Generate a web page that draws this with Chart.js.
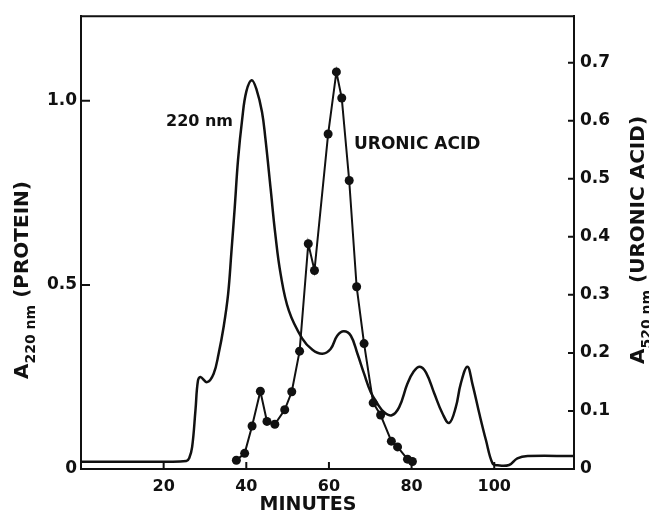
<!DOCTYPE html>
<html lang="en">
<head>
  <meta charset="UTF-8" />
  <title>Elution profile - protein and uronic acid</title>
  <script src="https://cdn.jsdelivr.net/npm/chart.js"></script>
  <style>
    html, body {
      margin: 0;
      padding: 0;
      background: #fff;
    }
    #wrap {
      width: 649px;
      height: 518px;
      position: relative;
    }
  </style>
</head>
<body>
  <div id="wrap"><canvas id="elution"></canvas></div>

  <script>
    // 220 nm trace (left axis)
    const proteinMinutes = [0, 20, 25.5, 26.2, 26.9, 27.7, 28.3, 28.9, 30.5, 32.1, 33.3, 34.5, 35.6, 36.4, 37.2, 38.0, 39.0, 40.0, 41.3, 42.5, 43.8, 44.6, 45.9, 47.0, 48.3, 50.3, 53.5, 56, 58.4, 60.4, 62, 63.6, 65.3, 66.9, 68.5, 70.1, 71.7, 73.3, 75.2, 77, 79, 80.5, 82, 83.5, 85.5, 87.5, 89.1, 90.7, 91.9, 93.5, 94.7, 96.4, 98, 99.6, 100.8, 103.6, 105.6, 108.1, 119.3];
    const proteinA220 = [0.02, 0.02, 0.022, 0.03, 0.06, 0.16, 0.24, 0.25, 0.236, 0.259, 0.313, 0.385, 0.475, 0.59, 0.71, 0.84, 0.95, 1.025, 1.056, 1.03, 0.97, 0.9, 0.76, 0.64, 0.53, 0.43, 0.355, 0.324, 0.313, 0.326, 0.362, 0.374, 0.362, 0.313, 0.259, 0.209, 0.178, 0.155, 0.146, 0.168, 0.232, 0.265, 0.278, 0.262, 0.205, 0.15, 0.125, 0.168, 0.232, 0.278, 0.232, 0.15, 0.078, 0.015, 0.01, 0.011, 0.029, 0.035, 0.035];

    // uronic acid fractions (right axis)
    const uronicMinutes = [37.6, 39.6, 41.4, 43.4, 45.0, 46.9, 49.3, 51.0, 52.9, 55.0, 56.5, 59.8, 61.8, 63.1, 64.9, 66.7, 68.5, 70.7, 72.5, 75.1, 76.6, 79.0, 80.2];
    const uronicA520 = [0.015, 0.027, 0.074, 0.134, 0.082, 0.077, 0.102, 0.133, 0.203, 0.388, 0.342, 0.577, 0.684, 0.639, 0.497, 0.314, 0.216, 0.114, 0.093, 0.048, 0.038, 0.017, 0.013];

    const xTicks = [20, 40, 60, 80, 100];
    const leftTicks = [0, 0.5, 1.0];
    const rightTicks = [0, 0.1, 0.2, 0.3, 0.4, 0.5, 0.6, 0.7];

    const FONT = "'DejaVu Sans', sans-serif";
    const INK = '#111';

    function toPoints(xs, ys) {
      return xs.map((x, i) => ({ x: x, y: ys[i] }));
    }

    function tickLabel(v) {
      return v === 0 ? '0' : v.toFixed(1);
    }

    // rotated axis title with a subscript part
    function verticalTitle(ctx, x, yCenter, main, sub, rest) {
      const big = 'bold 20px ' + FONT;
      const small = 'bold 14px ' + FONT;
      ctx.save();
      ctx.translate(x, yCenter);
      ctx.rotate(-Math.PI / 2);
      ctx.textAlign = 'left';
      ctx.textBaseline = 'alphabetic';
      ctx.font = big;
      const wMain = ctx.measureText(main).width;
      const wRest = ctx.measureText(rest).width;
      ctx.font = small;
      const wSub = ctx.measureText(sub).width;
      let cur = -(wMain + wSub + wRest) / 2;
      ctx.font = big;
      ctx.fillText(main, cur, 0);
      cur += wMain;
      ctx.font = small;
      ctx.fillText(sub, cur, 7);
      cur += wSub;
      ctx.font = big;
      ctx.fillText(rest, cur, 0);
      ctx.restore();
    }

    // inward tick marks, top frame line and the free-standing texts
    const decorations = {
      id: 'decorations',
      afterDraw(chart) {
        const { ctx, chartArea: a, scales } = chart;
        ctx.save();
        ctx.strokeStyle = INK;
        ctx.lineWidth = 2;
        ctx.beginPath();
        ctx.moveTo(a.left - 1, a.top);
        ctx.lineTo(a.right + 1, a.top);
        xTicks.forEach(v => {
          const px = scales.x.getPixelForValue(v);
          ctx.moveTo(px, a.bottom);
          ctx.lineTo(px, a.bottom - 7);
        });
        leftTicks.forEach(v => {
          const py = scales.y.getPixelForValue(v);
          ctx.moveTo(a.left, py);
          ctx.lineTo(a.left + 9, py);
        });
        rightTicks.forEach(v => {
          const py = scales.y1.getPixelForValue(v);
          ctx.moveTo(a.right, py);
          ctx.lineTo(a.right - 6, py);
        });
        ctx.stroke();

        ctx.fillStyle = INK;
        ctx.textBaseline = 'middle';
        ctx.textAlign = 'left';
        ctx.font = 'bold 16px ' + FONT;
        ctx.fillText('220 nm', 166, 122);
        ctx.font = 'bold 17px ' + FONT;
        ctx.fillText('URONIC ACID', 354, 145);

        ctx.textAlign = 'center';
        ctx.font = 'bold 19px ' + FONT;
        ctx.fillText('MINUTES', 308, 505);

        verticalTitle(ctx, 28, 280, 'A', '220 nm', ' (PROTEIN)');
        verticalTitle(ctx, 644, 240, 'A', '520 nm', ' (URONIC ACID)');
        ctx.restore();
      }
    };

    const tickFont = { family: FONT, size: 17, weight: 'bold' };

    new Chart(document.getElementById('elution'), {
      type: 'line',
      data: {
        datasets: [
          {
            label: '220 nm',
            data: toPoints(proteinMinutes, proteinA220),
            yAxisID: 'y',
            borderColor: INK,
            borderWidth: 2.5,
            pointRadius: 0,
            tension: 0.4,
            fill: false
          },
          {
            label: 'URONIC ACID',
            data: toPoints(uronicMinutes, uronicA520),
            yAxisID: 'y1',
            borderColor: INK,
            borderWidth: 2,
            pointRadius: 4.5,
            pointBorderWidth: 0,
            pointBackgroundColor: INK,
            tension: 0,
            fill: false
          }
        ]
      },
      options: {
        responsive: true,
        maintainAspectRatio: false,
        animation: false,
        layout: { padding: { top: 14, left: 0, right: 0, bottom: 0 } },
        plugins: {
          legend: { display: false },
          tooltip: { enabled: false }
        },
        scales: {
          x: {
            type: 'linear',
            min: 0,
            max: 119.3,
            afterBuildTicks: s => { s.ticks = xTicks.map(v => ({ value: v })); },
            afterFit: s => { s.height = 49; },
            grid: { drawOnChartArea: false, drawTicks: false },
            border: { display: true, color: INK, width: 2 },
            ticks: { padding: 8, color: INK, font: { family: FONT, size: 16, weight: 'bold' }, callback: v => String(v) }
          },
          y: {
            position: 'left',
            min: 0,
            max: 1.23,
            afterBuildTicks: s => { s.ticks = leftTicks.map(v => ({ value: v })); },
            afterFit: s => { s.width = 81; },
            grid: { drawOnChartArea: false, drawTicks: false },
            border: { display: true, color: INK, width: 2 },
            ticks: { padding: 4, color: INK, font: tickFont, callback: tickLabel }
          },
          y1: {
            position: 'right',
            min: 0,
            max: 0.78,
            afterBuildTicks: s => { s.ticks = rightTicks.map(v => ({ value: v })); },
            afterFit: s => { s.width = 75; },
            grid: { drawOnChartArea: false, drawTicks: false },
            border: { display: true, color: INK, width: 2 },
            ticks: { padding: 6, color: INK, font: tickFont, callback: tickLabel }
          }
        }
      },
      plugins: [decorations]
    });
  </script>
</body>
</html>
